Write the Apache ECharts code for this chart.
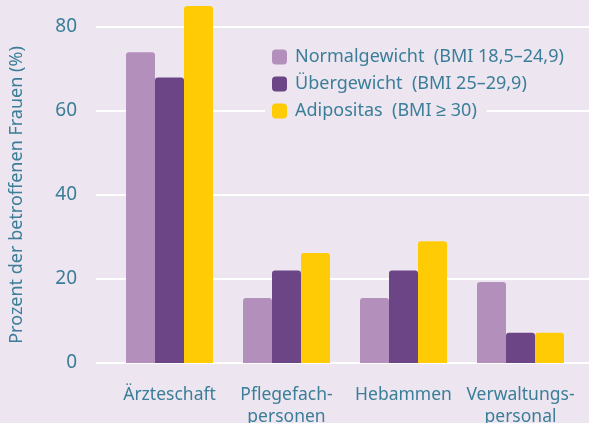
<!DOCTYPE html>
<html>
<head>
<meta charset="utf-8">
<script src="https://cdn.jsdelivr.net/npm/echarts@6/dist/echarts.min.js"></script>
<style>
  html, body { margin: 0; padding: 0; background: #EDE5F0; }
  #chart { width: 589px; height: 423px; }
</style>
</head>
<body>
<div id="chart"></div>
<script>
var categories = ['Ärzteschaft', 'Pflegefach-\npersonen', 'Hebammen', 'Verwaltungs-\npersonal'];
var seriesNames = ['Normalgewicht  (BMI 18,5–24,9)', 'Übergewicht  (BMI 25–29,9)', 'Adipositas  (BMI ≥ 30)'];
var normalValues = [74, 15.5, 15.5, 19.3];
var overValues = [68, 22, 22, 7.2];
var adiposValues = [85, 26.2, 29, 7.2];
var yTicks = [0, 20, 40, 60, 80];
var colors = ['#B38FBB', '#6B4586', '#FFCB05'];
var bg = '#EDE5F0';
var textColor = '#3A7E98';
var fontFam = '"Noto Sans", sans-serif';

document.addEventListener('DOMContentLoaded', function(){
  var chart = echarts.init(document.getElementById('chart'));

  function bar(i, data){
    return {
      name: seriesNames[i],
      type: 'bar',
      data: data,
      clip: false,
      xAxisIndex: 1,
      yAxisIndex: 1,
      barWidth: 29,
      barGap: '0%',
      itemStyle: { color: colors[i], borderRadius: [3, 3, 0, 0] }
    };
  }

  // one legend per row so every row gets its own background box
  var rowTops = [44, 71, 98];
  var legends = seriesNames.map(function(name, i){
    return {
      orient: 'vertical',
      left: 265,
      top: rowTops[i],
      itemWidth: 15,
      itemHeight: 15,
      icon: 'roundRect',
      padding: [4, 10, 4, 7],
      backgroundColor: bg,
      textStyle: { color: textColor, fontSize: 18, fontFamily: fontFam, padding: [0, 0, 0, 3] },
      data: [name]
    };
  });

  var yMin = yTicks[0], yMax = yTicks[yTicks.length - 1];

  var option = {
    backgroundColor: bg,
    animation: false,
    grid: [
      { left: 96, right: 0, top: 27, bottom: 60, outerBoundsMode: 'none' },
      { left: 111, right: 10, top: 27, bottom: 60, outerBoundsMode: 'none' }
    ],
    legend: legends,
    xAxis: [
      { type: 'category', gridIndex: 0, data: categories, show: false },
      {
        type: 'category',
        gridIndex: 1,
        data: categories,
        axisLine: { show: false },
        axisTick: { show: false },
        axisLabel: {
          color: textColor, fontSize: 17.5, fontFamily: fontFam,
          margin: 21, lineHeight: 22, interval: 0
        }
      }
    ],
    yAxis: [
      {
        type: 'value',
        gridIndex: 0,
        min: yMin,
        max: yMax,
        interval: 20,
        name: 'Prozent der betroffenen Frauen (%)',
        nameLocation: 'middle',
        nameGap: 70,
        nameTextStyle: { color: textColor, fontSize: 18, fontFamily: fontFam },
        axisLine: { show: false },
        axisTick: { show: false },
        axisLabel: { color: textColor, fontSize: 19, fontFamily: fontFam, margin: 19 },
        splitLine: { show: true, lineStyle: { color: '#FFFFFF', width: 2 } }
      },
      {
        type: 'value',
        gridIndex: 1,
        min: yMin,
        max: yMax,
        show: false,
        splitLine: { show: false }
      }
    ],
    series: [
      bar(0, normalValues),
      bar(1, overValues),
      bar(2, adiposValues)
    ]
  };
  chart.setOption(option);
});
</script>
</body>
</html>
